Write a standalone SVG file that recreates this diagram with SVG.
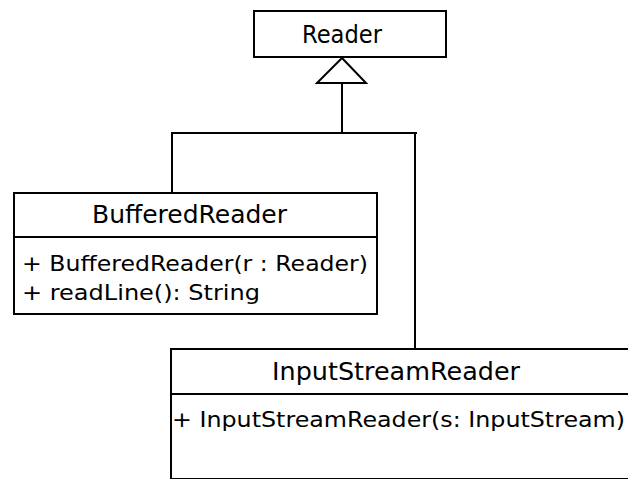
<svg xmlns="http://www.w3.org/2000/svg" width="628" height="479" viewBox="0 0 628 479">
<style>
.box{fill:#fff;stroke:#000;stroke-width:2}
.ln{fill:none;stroke:#000;stroke-width:2}
.t{font-family:"DejaVu Sans","Liberation Sans",sans-serif;fill:#000}
.title{font-size:25px}
.mem{font-size:22px}
</style>
<rect width="628" height="479" fill="#fff"/>
<g id="connectors">
<polyline class="ln" points="172,193 172,133 417,133"/>
<line class="ln" x1="415" y1="133" x2="415" y2="349"/>
<line class="ln" x1="342" y1="83" x2="342" y2="133"/>
<polygon class="box" points="342,58 317,83 366,83"/>
</g>
<g id="reader">
<rect class="box" x="254" y="11" width="192" height="46"/>
<text class="t title" x="302" y="43" textLength="80" lengthAdjust="spacingAndGlyphs">Reader</text>
</g>
<g id="bufferedreader">
<rect class="box" x="14" y="193" width="363" height="121"/>
<line class="ln" x1="14" y1="237" x2="377" y2="237"/>
<text class="t title" x="92" y="223" textLength="195" lengthAdjust="spacingAndGlyphs">BufferedReader</text>
<text class="t mem" x="22" y="271" textLength="346" lengthAdjust="spacingAndGlyphs">+ BufferedReader(r : Reader)</text>
<text class="t mem" x="22" y="300" textLength="238" lengthAdjust="spacingAndGlyphs">+ readLine(): String</text>
</g>
<g id="inputstreamreader">
<rect class="box" x="171" y="349" width="480" height="130"/>
<line class="ln" x1="171" y1="394" x2="640" y2="394"/>
<text class="t title" x="272" y="380" textLength="248" lengthAdjust="spacingAndGlyphs">InputStreamReader</text>
<text class="t mem" x="172" y="427" textLength="453" lengthAdjust="spacingAndGlyphs">+ InputStreamReader(s: InputStream)</text>
</g>
</svg>
